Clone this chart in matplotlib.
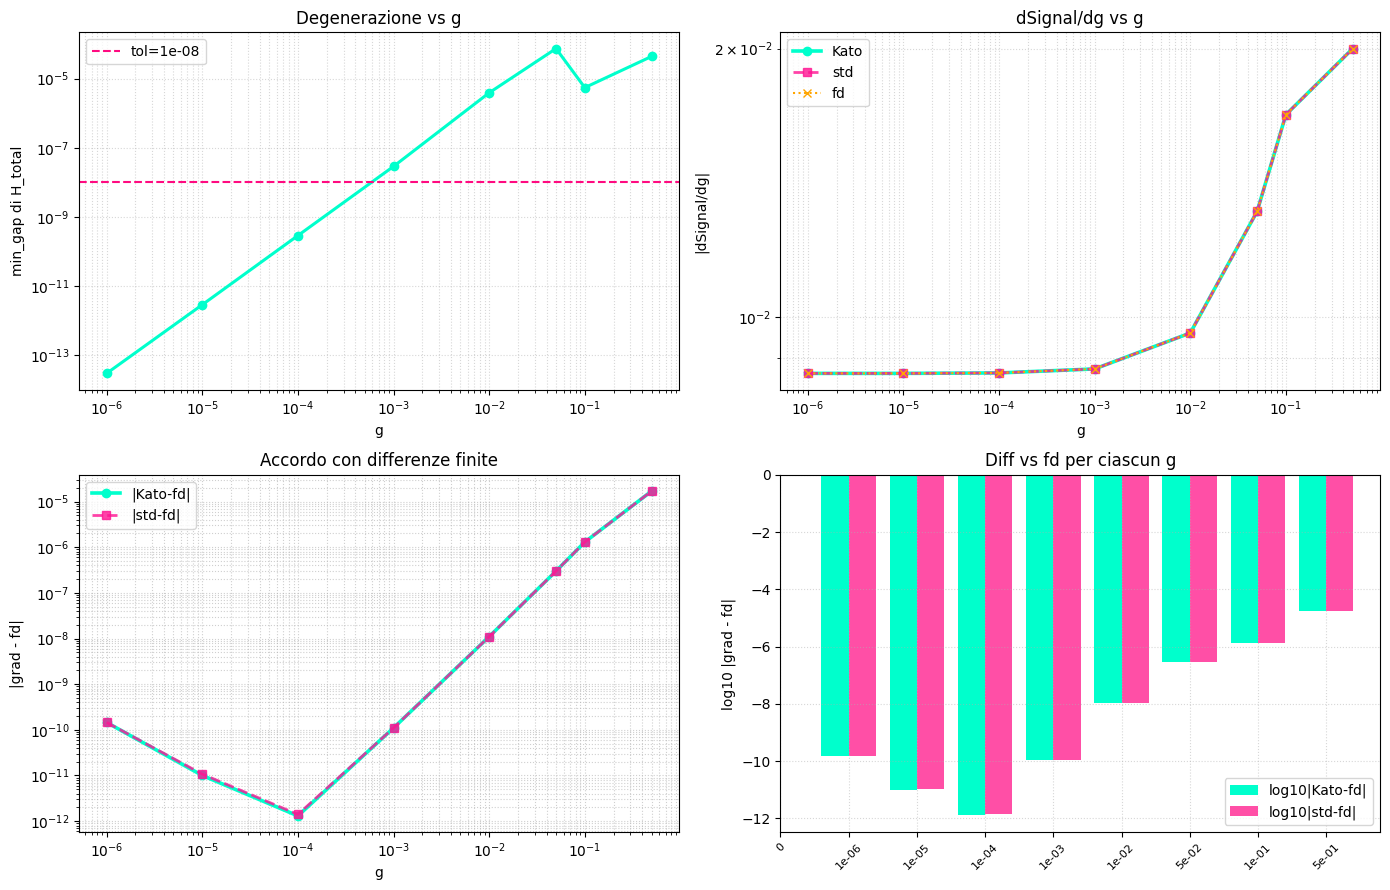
import numpy as np
import matplotlib
matplotlib.use("Agg")
import matplotlib.pyplot as plt
from matplotlib.ticker import NullLocator

g_vals = [1e-6, 1e-5, 1e-4, 1e-3, 1e-2, 5e-2, 1e-1, 5e-1]
min_gap = [3.0e-14, 2.9e-12, 2.9e-10, 2.9e-8, 3.9e-6, 7.4e-5, 5.5e-6, 4.4e-5]
tol = 1e-8
gap_yticks = [1e-13, 1e-11, 1e-9, 1e-7, 1e-5]
dsig_kato = [8.64e-3, 8.64e-3, 8.65e-3, 8.74e-3, 9.59e-3, 1.313e-2, 1.686e-2, 2.0e-2]
dsig_std = [8.64e-3, 8.64e-3, 8.65e-3, 8.74e-3, 9.59e-3, 1.313e-2, 1.686e-2, 2.0e-2]
dsig_fd = [8.64e-3, 8.64e-3, 8.65e-3, 8.74e-3, 9.59e-3, 1.313e-2, 1.686e-2, 2.0e-2]
diff_kato = [1.45e-10, 1.0e-11, 1.3e-12, 1.1e-10, 1.1e-8, 3.0e-7, 1.3e-6, 1.7e-5]
diff_std = [1.45e-10, 1.07e-11, 1.4e-12, 1.1e-10, 1.1e-8, 3.0e-7, 1.3e-6, 1.7e-5]
bar_labels = ['0'] + [f"{v:.0e}" for v in g_vals]

C_KATO = '#00FFCC'
C_STD = '#FF1493'
C_FD = '#FFA500'
C_TOL = '#FF0A80'
C_BAR_STD = '#FF4FA6'

fig, axes = plt.subplots(2, 2, figsize=(13.9, 8.9), dpi=100)
ax1, ax2, ax3, ax4 = axes.ravel()

# top-left
ax1.loglog(g_vals, min_gap, marker='o', color=C_KATO, lw=2.2)
ax1.axhline(tol, color=C_TOL, ls='--', label="tol=1e-08")
ax1.set_yticks(gap_yticks)
ax1.yaxis.set_minor_locator(NullLocator())
ax1.set_title("Degenerazione vs g")
ax1.set_xlabel("g")
ax1.set_ylabel("min_gap di H_total")
ax1.grid(True, which='both', ls=':', alpha=0.5)
ax1.legend(loc='upper left')

# top-right
ax2.loglog(g_vals, dsig_kato, marker='o', color=C_KATO, lw=2.6, label='Kato')
ax2.loglog(g_vals, dsig_std, marker='s', color=C_STD, lw=2.0, ls='--', alpha=0.8, label='std')
ax2.loglog(g_vals, dsig_fd, marker='x', color=C_FD, lw=1.5, ls=':', label='fd')
ax2.set_title("dSignal/dg vs g")
ax2.set_xlabel("g")
ax2.set_ylabel("|dSignal/dg|")
ax2.grid(True, which='both', ls=':', alpha=0.5)
ax2.legend(loc='upper left')

# bottom-left
ax3.loglog(g_vals, diff_kato, marker='o', color=C_KATO, lw=2.6, label='|Kato-fd|')
ax3.loglog(g_vals, diff_std, marker='s', color=C_STD, lw=2.0, ls='--', alpha=0.8, label='|std-fd|')
ax3.set_title("Accordo con differenze finite")
ax3.set_xlabel("g")
ax3.set_ylabel("|grad - fd|")
ax3.grid(True, which='both', ls=':', alpha=0.6)
ax3.legend(loc='upper left')

# bottom-right
x = np.arange(1, len(g_vals) + 1)
w = 0.4
ax4.bar(x - w / 2, np.log10(diff_kato), width=w, color=C_KATO, label='log10|Kato-fd|')
ax4.bar(x + w / 2, np.log10(diff_std), width=w, color=C_BAR_STD, label='log10|std-fd|')
ax4.set_xlim(left=0)
ax4.set_xticks(np.arange(0, len(g_vals) + 1))
ax4.set_xticklabels(bar_labels, rotation=45, fontsize=8)
ax4.set_title("Diff vs fd per ciascun g")
ax4.set_ylabel("log10 |grad - fd|")
ax4.grid(True, ls=':', alpha=0.5)
ax4.legend(loc='lower right')

fig.tight_layout(pad=0.72, h_pad=1.08, w_pad=1.08)
fig.savefig("out.png", dpi=100)
